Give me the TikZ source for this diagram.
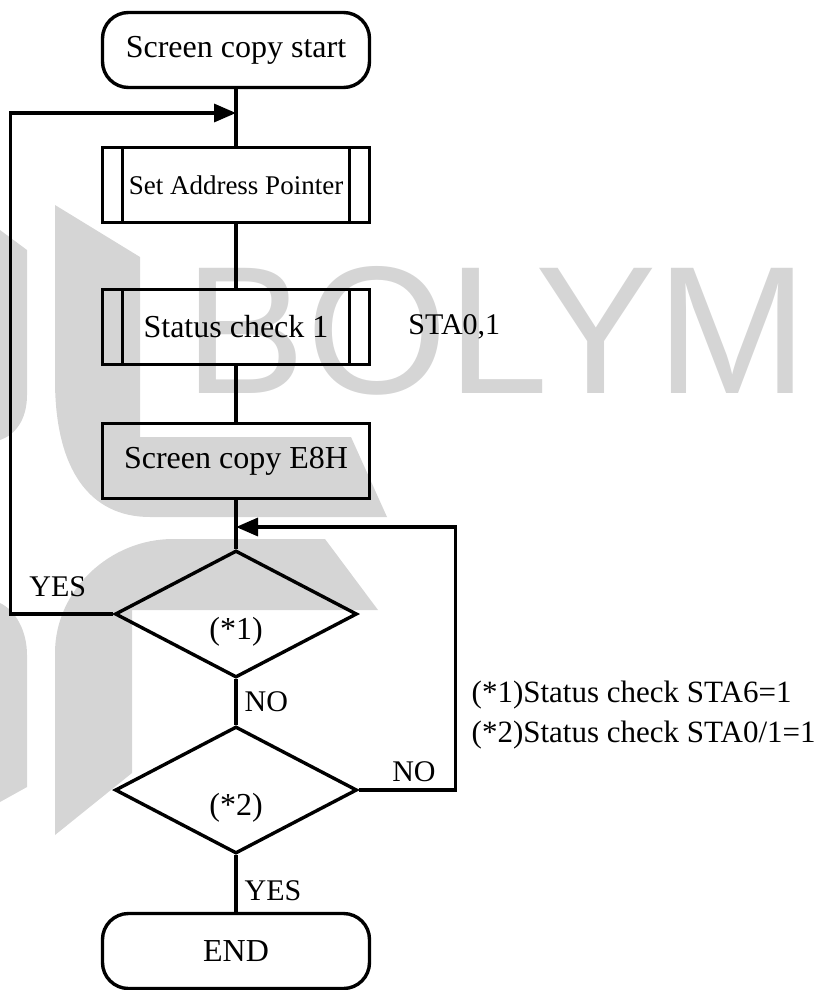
\documentclass[tikz,border=0pt]{standalone}
\usepackage{fontspec}
\setmainfont{Liberation Serif}
\newfontfamily\wmfont{Liberation Sans}
\usetikzlibrary{arrows.meta,shapes.geometric,positioning}
\definecolor{wmgray}{HTML}{D5D5D5}

\begin{document}
\begin{tikzpicture}[x=0.5pt, y=-0.5pt, line width=1.7pt, every node/.style={font=\fontsize{16}{20}\selectfont}, >={Triangle[length=11pt,width=9pt]},
	t/.style={draw, rounded corners=13pt, minimum width=133.5pt, minimum height=37.5pt},
	b/.style={draw, minimum width=133.5pt, minimum height=37.5pt},
	sub/.style={b, path picture={
		\draw ([xshift=10pt]path picture bounding box.north west) -- ([xshift=10pt]path picture bounding box.south west);
		\draw ([xshift=-10pt]path picture bounding box.north east) -- ([xshift=-10pt]path picture bounding box.south east);}},
	d/.style={draw, diamond, minimum width=121pt, minimum height=63.5pt, inner sep=0pt},
	lbl/.style={font=\fontsize{15}{18}\selectfont, inner sep=2pt}]
	\useasboundingbox (0,0) rectangle (826,990);
	% watermark
	\fill[wmgray] (0,230) -- (27,250) -- (27,395) .. controls (27,420) and (15,435) .. (0,440) -- cycle;
	\fill[wmgray] (55,205) -- (140,257) -- (140,437) -- (351,437) -- (387,517) -- (150,517) .. controls (90,517) and (55,470) .. (55,380) -- cycle;
	\fill[wmgray] (173,539) -- (325,539) -- (378,610) -- (132,610) -- (132,773) -- (55,835) -- (55,653) .. controls (55,590) and (110,539) .. (173,539) -- cycle;
	\fill[wmgray] (0,603) .. controls (15,610) and (27,630) .. (27,655) -- (27,787) -- (0,802) -- cycle;
	\node[text=wmgray, font=\wmfont\fontsize{91}{91}\selectfont, anchor=base west, inner sep=0pt] (wm) at (183,393) {BOLYM};
	% flow
	\node[t] (start) at (236,50) {Screen copy start};
	\node[sub, font=\fontsize{13.5}{16}\selectfont] (sap) at (236,185) {Set Address Pointer};
	\node[sub] (sc1) at (236,327) {Status check 1};
	\node[b] (e8h) at (236,461) {Screen copy E8H};
	\node[d, label={[lbl, font=\fontsize{16}{18}\selectfont, yshift=-9pt]center:(*1)}] (d1) at (236,614) {};
	\node[d, label={[lbl, font=\fontsize{16}{18}\selectfont, yshift=-9pt]center:(*2)}] (d2) at (236,790) {};
	\node[t] (end) at (236,951) {END};
	\node[lbl, right=15.75pt of sc1] (sta) {STA0,1};
	\node[lbl, anchor=west, align=left, font=\fontsize{15.5}{20}\selectfont] (note) at (466,715) {(*1)Status check STA6=1\\(*2)Status check STA0/1=1};
	\coordinate (r1) at (236,113);
	\coordinate (r2) at (236,527);
	\draw (start) -- (sap);
	\draw (sap) -- (sc1);
	\draw (sc1) -- (e8h);
	\draw (e8h) -- (d1);
	\draw (d1) -- (d2) node[lbl, midway, right=1.5pt] {NO};
	\draw (d2) -- (end) node[lbl, pos=0.62, right=1.5pt] {YES};
	\draw[->] (d1.west) -- ++(-103,0) node[lbl, pos=0.54, above=6pt] {YES} |- (r1);
	\draw[->] (d2.east) -- ++(97,0) node[lbl, pos=0.57, above=1.5pt] {NO} |- (r2);
\end{tikzpicture}
\end{document}
